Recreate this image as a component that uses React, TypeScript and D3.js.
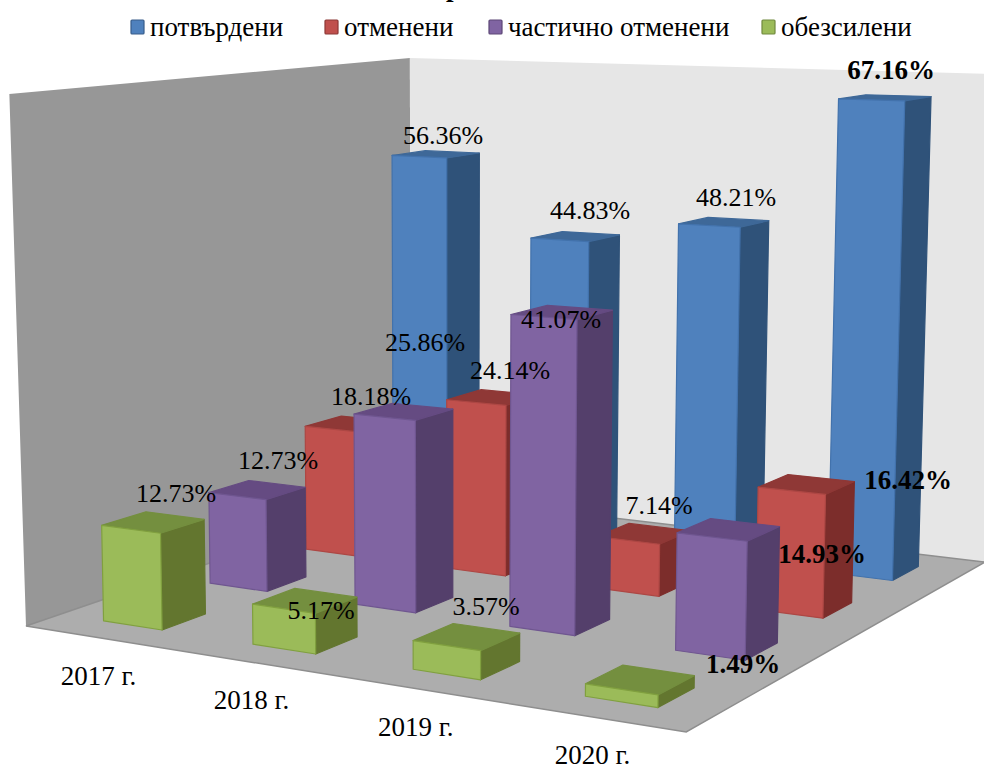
import React from "react";
import * as d3 from "d3";

const categories = ["2017 г.", "2018 г.", "2019 г.", "2020 г."];
const seriesNames = ["потвърдени", "отменени", "частично отменени", "обезсилени"];
const potvardeni = [56.36, 44.83, 48.21, 67.16];
const otmeneni = [18.18, 24.14, 7.14, 16.42];
const chastichno = [12.73, 25.86, 41.07, 14.93];
const obezsileni = [12.73, 5.17, 3.57, 1.49];
const seriesValues = [potvardeni, otmeneni, chastichno, obezsileni];
const valueMax = 70.5;

const palette = [
  { face: "#4F81BD", side: "#2F5279", top: "#3E6898", line: "#4272AC", swatch: "#4F81BD", swLine: "#385D8A" },
  { face: "#C0504D", side: "#7C2D2B", top: "#8F3836", line: "#AD4744", swatch: "#C0504D", swLine: "#8C3836" },
  { face: "#8064A2", side: "#543F6B", top: "#654B82", line: "#6F5690", swatch: "#8064A2", swLine: "#5C4776" },
  { face: "#9BBB59", side: "#63762F", top: "#748F3F", line: "#80A03F", swatch: "#9BBB59", swLine: "#71893F" },
];

// label centres per series/category (hand-placed in the source chart)
const labelCentres = [
  [[443, 135], [590, 210], [736, 197], [891, 70]],
  [[371, 396], [510, 370], [659, 505], [908, 480]],
  [[278, 460], [425, 342], [561, 319], [822, 554]],
  [[176, 493], [321, 610], [486, 606], [743, 664]],
];
const legendLayout = [
  { sw: 131, tx: 150 },
  { sw: 325, tx: 344 },
  { sw: 489, tx: 508 },
  { sw: 762, tx: 781 },
];

const FONT = "'Liberation Serif','Times New Roman',serif";

// perspective: unit floor square to its on-screen quad, height added on top
const H = { g: -0.1354, h: 0.2204, a: 567.3, b: 475.4, c: 26, d: 6.9, e: -23.1, f: 626 };
function project(u: number, v: number, z: number): [number, number] {
  const w = 1 + H.g * u + H.h * v;
  const nx = H.a * u + H.b * v + H.c;
  const ny = H.d * u + H.e * v + H.f;
  return [(nx - 13.5 * z) / (w - 0.03 * z), (ny - 532 * z) / w];
}

const uScale = d3.scaleBand<string>().domain(categories).range([0, 1]).paddingInner(0.6).paddingOuter(0.3);
const vScale = d3.scaleBand<string>().domain([...seriesNames].reverse()).range([0, 1]).paddingInner(0.6).paddingOuter(0.3);
const zScale = d3.scaleLinear().domain([0, valueMax]).range([0, 1]);
const poly = d3.line();

function quad(points: [number, number, number][]) {
  return poly(points.map((p) => project(p[0], p[1], p[2]))) + "Z";
}

export default function App() {
  const bars: React.ReactNode[] = [];
  seriesNames.forEach((name, s) => {
    categories.forEach((cat, c) => {
      const u0 = uScale(cat)!;
      const u1 = u0 + uScale.bandwidth();
      const v0 = vScale(name)!;
      const v1 = v0 + vScale.bandwidth();
      const z = zScale(seriesValues[s][c]);
      const col = palette[s];
      bars.push(
        <g key={`${s}-${c}`} strokeWidth={1.2} strokeLinejoin="round">
          <path d={quad([[u1, v0, 0], [u1, v1, 0], [u1, v1, z], [u1, v0, z]])} fill={col.side} stroke={col.side} />
          <path d={quad([[u0, v0, z], [u1, v0, z], [u1, v1, z], [u0, v1, z]])} fill={col.top} stroke={col.top} />
          <path d={quad([[u0, v0, 0], [u1, v0, 0], [u1, v0, z], [u0, v0, z]])} fill={col.face} stroke={col.line} />
        </g>
      );
    });
  });

  const labels: React.ReactNode[] = [];
  seriesNames.forEach((_, s) => {
    categories.forEach((_c, c) => {
      const [x, y] = labelCentres[s][c];
      labels.push(
        <text key={`l${s}-${c}`} x={x} y={y} textAnchor="middle" dominantBaseline="central" fontWeight={c === 3 ? 700 : 400} fontSize={c === 3 ? 27 : 26}>
          {seriesValues[s][c].toFixed(2)}%
        </text>
      );
    });
  });

  return (
    <svg width={984} height={765} style={{ position: "absolute", left: 0, top: 0, background: "#fff" }} fontFamily={FONT} fontSize={27} fill="#000">
      <path d={quad([[0, 0, 0], [0, 1, 0], [0, 1, 1], [-0.006, 0, 1]])} fill="#979797" />
      <path d={quad([[0, 1, 0], [1, 1, 0], [1, 1, 0.995], [0, 1, 1]])} fill="#E6E6E6" />
      <path d={quad([[0, 0, 0], [1, 0, 0], [1, 1, 0], [0, 1, 0]])} fill="#ADADAD" stroke="#8E8E8E" strokeWidth={1.5} />
      {bars}
      {labels}
      {categories.map((cat) => {
        const [x, y] = project(uScale(cat)! + uScale.bandwidth() / 2, 0, 0);
        return (
          <text key={cat} x={x} y={y + 38} textAnchor="middle" dominantBaseline="central">
            {cat}
          </text>
        );
      })}
      {seriesNames.map((name, s) => (
        <g key={name}>
          <rect x={legendLayout[s].sw} y={20} width={13} height={14} rx={1} fill={palette[s].swatch} stroke={palette[s].swLine} strokeWidth={1.2} />
          <text x={legendLayout[s].tx} y={27} dominantBaseline="central">{name}</text>
        </g>
      ))}
      <text x={446} y={-4} fontWeight={700}>р</text>
    </svg>
  );
}
